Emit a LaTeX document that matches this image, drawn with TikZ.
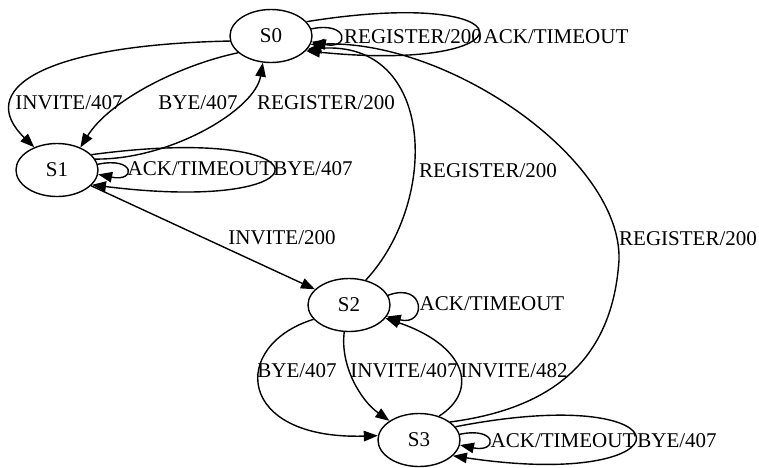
\documentclass[tikz,border=0pt]{standalone}
\usepackage{fontspec}
\setmainfont{Liberation Serif}
\usetikzlibrary{arrows.meta,shapes.geometric}
\begin{document}
\begin{tikzpicture}[x=1pt,y=-1pt,
  state/.style={draw, ellipse, line width=1.4pt, minimum width=82pt, minimum height=53pt, inner sep=0pt, font=\fontsize{21}{25}\selectfont},
  lbl/.style={anchor=base, inner sep=0pt, font=\fontsize{21}{25}\selectfont},
  edge/.style={line width=1.4pt, -{Triangle[length=14pt,width=10.5pt]}}]
\useasboundingbox (0,0) rectangle (759,467);
\node[state] (s0) at (271,36) {S0};
\node[state] (s1) at (57,170) {S1};
\node[state] (s2) at (349,305) {S2};
\node[state] (s3) at (419,440) {S3};
\coordinate (c1) at (619,260);
% edges
\draw[edge] (s0.10) .. controls +(38,-8) and +(38,8) .. (s0.352);
\draw[edge] (s0.22) .. controls (535,-15) and (535,74) .. (s0.337);
\draw[edge] (s0.187) .. controls (40,45) and (-25,90) .. (s1.135);
\draw[edge] (s0.207) .. controls (180,65) and (110,100) .. (s1.44);
\draw[edge] (s1.16) .. controls (170,160) and (255,110) .. (s0.253);
\draw[edge] (s1.8) .. controls +(38,-8) and +(38,8) .. (s1.354);
\draw[edge] (s1.24) .. controls (334,122) and (334,215) .. (s1.337);
\draw[edge] (s1) -- (s2);
\draw[edge] (s2.56) .. controls (440,200) and (435,40) .. (s0.340);
\draw[edge] (s3.30) .. controls (540,410) and (612,370) .. (c1) .. controls (622,160) and (450,40) .. (s0.348);
\draw[edge] (s2.14) .. controls +(38,-14) and +(40,10) .. (s2.343);
\draw[edge] (s2.202) .. controls (230,345) and (235,440) .. (s3.174);
\draw[edge] (s2.260) .. controls (340,365) and (360,400) .. (s3.147);
\draw[edge] (s3.50) .. controls (480,390) and (465,345) .. (s2.340);
\draw[edge] (s3.8) .. controls +(38,-8) and +(38,8) .. (s3.353);
\draw[edge] (s3.20) .. controls (695,380) and (695,492) .. (s3.335);
% labels
\node[lbl] (l1) at (413,43) {REGISTER/200};
\node[lbl] (l2) at (556,43) {ACK/TIMEOUT};
\node[lbl] (l3) at (69,109) {INVITE/407};
\node[lbl] (l4) at (198,109) {BYE/407};
\node[lbl] (l5) at (326,109) {REGISTER/200};
\node[lbl] (l6) at (200,175) {ACK/TIMEOUT};
\node[lbl] (l7) at (313,175) {BYE/407};
\node[lbl] (l8) at (282,244) {INVITE/200};
\node[lbl] (l9) at (488,177) {REGISTER/200};
\node[lbl] (l10) at (688,245) {REGISTER/200};
\node[lbl] (l11) at (492,310) {ACK/TIMEOUT};
\node[lbl] (l12) at (297,377) {BYE/407};
\node[lbl] (l13) at (404,377) {INVITE/407};
\node[lbl] (l14) at (514,377) {INVITE/482};
\node[lbl] (l15) at (563,447) {ACK/TIMEOUT};
\node[lbl] (l16) at (677,447) {BYE/407};
\end{tikzpicture}
\end{document}
